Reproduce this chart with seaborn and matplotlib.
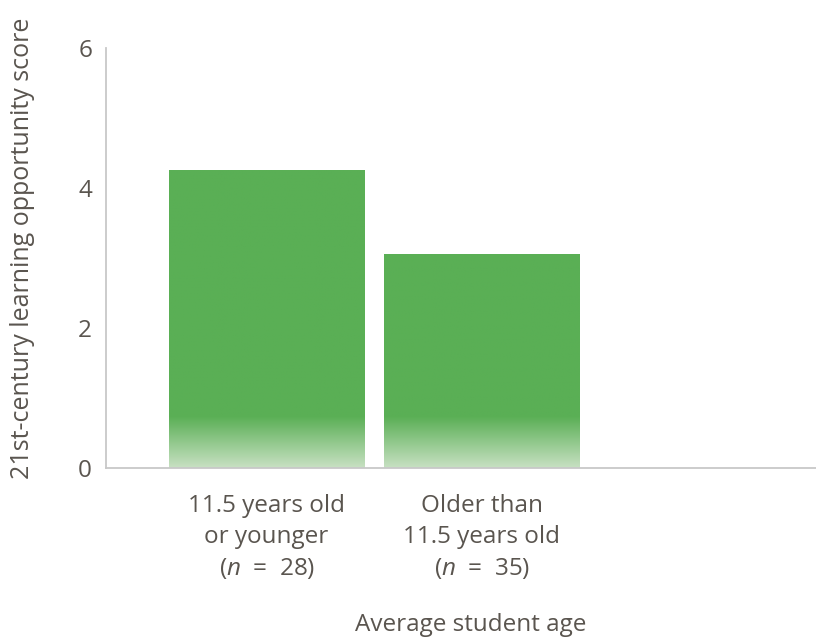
import numpy as np
import pandas as pd
import matplotlib
matplotlib.use("Agg")
import matplotlib.pyplot as plt
import seaborn as sns
from matplotlib.colors import to_rgb

categories = ["11.5 years old\nor younger\n($\\it{n}$  =  28)",
              "Older than\n11.5 years old\n($\\it{n}$  =  35)"]
scores = [4.26, 3.06]
yticks = [0, 2, 4, 6]
ylabel = "21st-century learning opportunity score"
xlabel = "Average student age"

sns.set_theme(style="white")
plt.rcParams['font.family'] = ['Open Sans', 'DejaVu Sans']
plt.rcParams['mathtext.fontset'] = 'custom'
plt.rcParams['mathtext.it'] = 'Open Sans:italic'
plt.rcParams['mathtext.rm'] = 'Open Sans'

TXT = "#5a554f"
GREEN = "#5aaf55"
FS = 17.5

W, H = 816, 641
fig = plt.figure(figsize=(W / 100, H / 100), dpi=100)
ax = fig.add_axes([106 / W, 1 - 468 / H, (816 - 106) / W, (468 - 48) / H])

df = pd.DataFrame({"cat": categories, "score": scores})
sns.barplot(data=df, x="cat", y="score", color=GREEN, width=0.907,
            saturation=1, ax=ax)

XL = (-0.747, -0.747 + 710 / 215)
ax.set_xlim(*XL)
ax.set_ylim(0, 6)
ax.set_yticks(yticks)
ax.set_yticklabels([str(t) for t in yticks])

# gradient at bottom of bars
g = np.array(to_rgb(GREEN))
light = np.array([0.78, 0.88, 0.76])
fade = 0.73
n = 200
ys = np.linspace(0, 1, n)
for p in ax.patches:
    x0 = p.get_x(); w = p.get_width(); h = p.get_height()
    yy = ys * h
    t = np.clip(yy / fade, 0, 1)[:, None]
    cols = light * (1 - t) + g * t
    img = np.repeat(cols[:, None, :], 2, axis=1)
    im = ax.imshow(img, extent=[x0, x0 + w, 0, h], origin="lower",
                   aspect="auto", zorder=p.get_zorder() + 0.1,
                   interpolation="bilinear")
    im.set_clip_path(p)
    p.set_facecolor("none")
    p.set_edgecolor("none")
ax.set_xlim(*XL)
ax.set_ylim(0, 6)

for s in ["top", "right"]:
    ax.spines[s].set_visible(False)
for s in ["left", "bottom"]:
    ax.spines[s].set_color("#c8c8c8")
    ax.spines[s].set_linewidth(1.3)

ax.tick_params(axis="both", length=0, colors=TXT, labelsize=FS)
ax.tick_params(axis="y", pad=10)
ax.tick_params(axis="x", pad=19)
for lab in ax.get_xticklabels():
    lab.set_linespacing(1.38)
    lab.set_color(TXT)
ax.set_xlabel("")
ax.set_ylabel("")

fig.text(23 / W, 1 - 248 / H, ylabel, rotation=90, ha="center", va="center",
         color=TXT, fontsize=18)
fig.text(471 / W, 1 - 631 / H, xlabel, ha="center", va="baseline",
         color=TXT, fontsize=FS)

fig.savefig("out.png", dpi=100)
